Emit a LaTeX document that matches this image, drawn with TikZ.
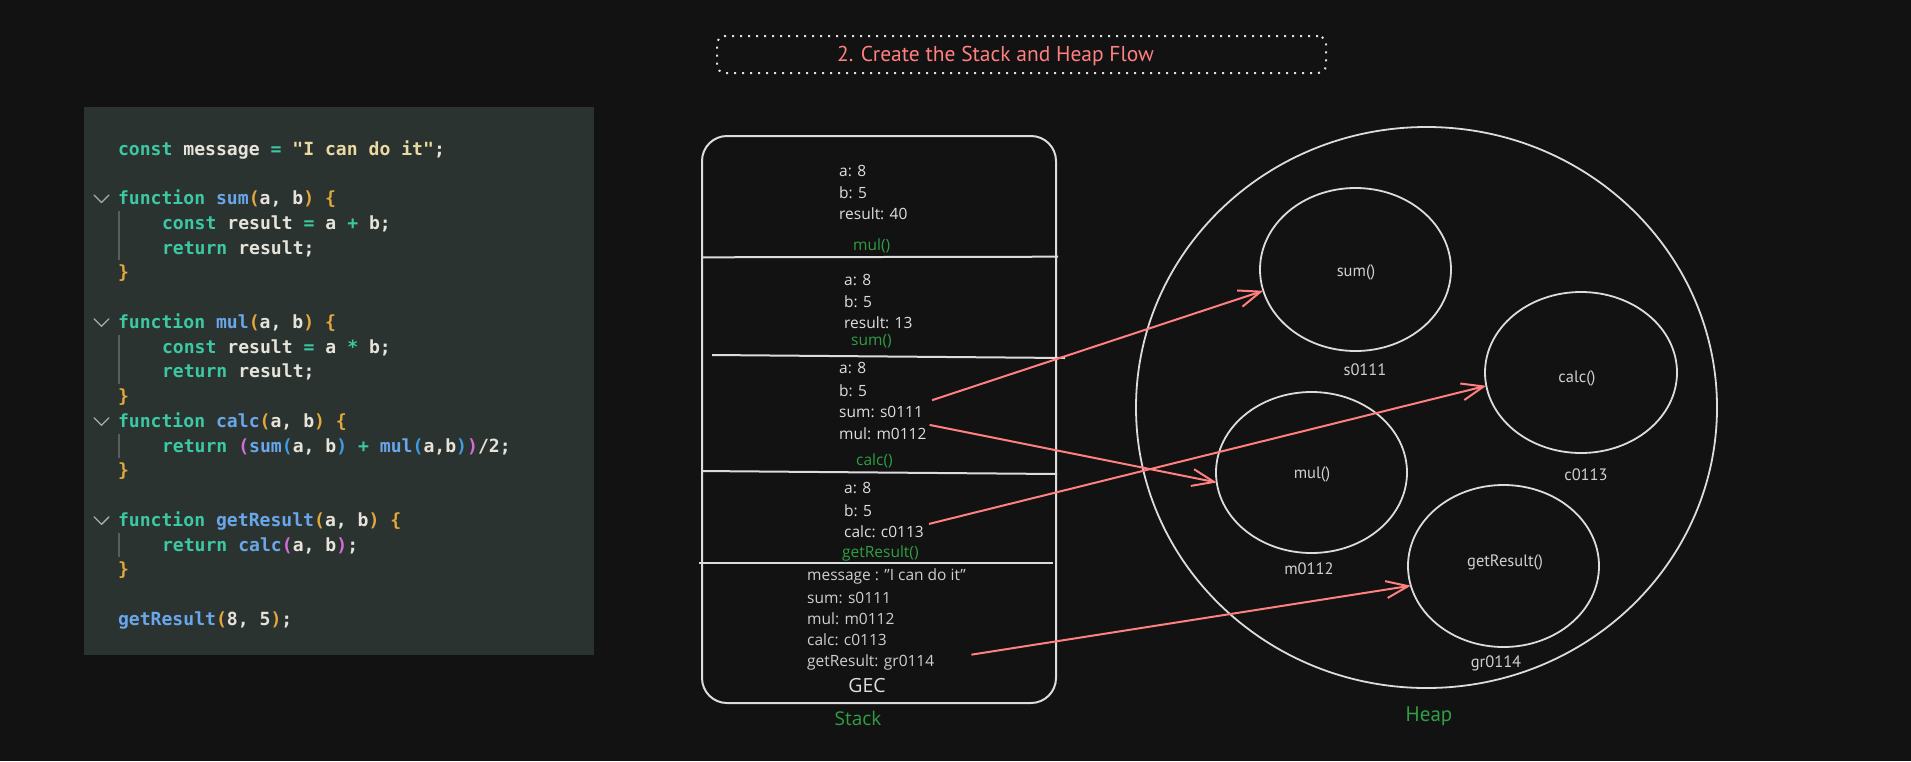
\documentclass[tikz,border=0pt]{standalone}
\usepackage{fontspec}
\setmainfont{Open Sans}
\newfontfamily\codefont{DejaVu Sans Mono}
\newfontfamily\ptfont{PT Sans}
\usetikzlibrary{arrows.meta,shapes.geometric}
\definecolor{bg}{HTML}{121212}
\definecolor{panel}{HTML}{2B3330}
\definecolor{ckw}{HTML}{3CC8A2}
\definecolor{cid}{HTML}{E6E4DA}
\definecolor{cfn}{HTML}{6AA6EA}
\definecolor{cpa}{HTML}{E2A83C}
\definecolor{cpb}{HTML}{D46CD8}
\definecolor{cpc}{HTML}{3C9DE4}
\definecolor{cstr}{HTML}{E8DAA2}
\definecolor{salmon}{HTML}{FF8080}
\definecolor{grn}{HTML}{2F9E44}
\definecolor{txt}{HTML}{DEDEDE}
\definecolor{txtb}{HTML}{CFCFCF}
\definecolor{strk}{HTML}{DCDCDC}
\definecolor{guide}{HTML}{5A5F5C}
\definecolor{chev}{HTML}{A8ADAA}
\newcommand\cKw[1]{\textcolor{ckw}{#1}}
\newcommand\cFn[1]{\textcolor{cfn}{#1}}
\newcommand\cPa[1]{\textcolor{cpa}{#1}}
\newcommand\cPb[1]{\textcolor{cpb}{#1}}
\newcommand\cPc[1]{\textcolor{cpc}{#1}}
\newcommand\cSt[1]{\textcolor{cstr}{#1}}
\begin{document}
\begin{tikzpicture}[x=1pt,y=-1pt,
  codeline/.style={anchor=mid west, inner sep=0pt, outer sep=0pt, text=cid,
    font=\codefont\bfseries\fontsize{18.1}{20}\selectfont},
  chevron/.style={draw=chev, line width=1.4pt, line cap=round, line join=round},
  guideline/.style={draw=guide, line width=1.2pt},
  stxt/.style={anchor=mid west, inner sep=0pt, text=txt, font=\fontsize{15.5}{18}\selectfont},
  gtxt/.style={anchor=mid west, inner sep=0pt, text=txtb, font=\fontsize{15.5}{18}\selectfont},
  frame/.style={anchor=mid west, inner sep=0pt, text=grn, font=\fontsize{15.5}{18}\selectfont},
  divider/.style={draw=strk, line width=2pt},
  heapobj/.style={ellipse, draw=strk, line width=1.8pt, inner sep=0pt, outer sep=0pt},
  htxt/.style={inner sep=0pt, text=txtb, font=\ptfont\fontsize{16.5}{18}\selectfont},
  arr/.style={draw=salmon, line width=2pt, -{Straight Barb[length=22pt,width=17pt]}}
]
\fill[bg] (0,0) rectangle (1911,761);
\useasboundingbox (0,0) rectangle (1911,761);

% title
\node[draw=strk!85, line width=2pt, dash pattern=on 2pt off 6pt, rounded corners=8pt,
  minimum width=609pt, minimum height=37pt, inner sep=0pt] (titlebox) at (1021.5,54.5) {};
\node[inner sep=0pt, text=salmon, font=\ptfont\fontsize{21.5}{24}\selectfont] (title) at (995.5,56) {2. Create the Stack and Heap Flow};

% code panel
\node[fill=panel, minimum width=510pt, minimum height=548pt, inner sep=0pt, anchor=north west] (codepanel) at (84,107) {};

\node[codeline] (cl0) at (118,152.5) {\cKw{const} message \cKw{=} \cSt{"I can do it"};};
\node[codeline] (cl2) at (118,202) {\cKw{function} \cFn{sum}\cPa{(}a, b\cPa{)} \cPa{\{}};
\node[codeline] (cl3) at (162,226.75) {\cKw{const} result \cKw{=} a \cKw{+} b;};
\node[codeline] (cl4) at (162,251.5) {\cKw{return} result;};
\node[codeline] (cl5) at (118,276.25) {\cPa{\}}};
\node[codeline] (cl7) at (118,325.75) {\cKw{function} \cFn{mul}\cPa{(}a, b\cPa{)} \cPa{\{}};
\node[codeline] (cl8) at (162,350.5) {\cKw{const} result \cKw{=} a \cKw{*} b;};
\node[codeline] (cl9) at (162,375.25) {\cKw{return} result;};
\node[codeline] (cl10) at (118,400) {\cPa{\}}};
\node[codeline] (cl11) at (118,424.75) {\cKw{function} \cFn{calc}\cPa{(}a, b\cPa{)} \cPa{\{}};
\node[codeline] (cl12) at (162,449.5) {\cKw{return} \cPb{(}\cFn{sum}\cPc{(}a, b\cPc{)} \cKw{+} \cFn{mul}\cPc{(}a,b\cPc{)}\cPb{)}/2;};
\node[codeline] (cl13) at (118,474.25) {\cPa{\}}};
\node[codeline] (cl15) at (118,523.75) {\cKw{function} \cFn{getResult}\cPa{(}a, b\cPa{)} \cPa{\{}};
\node[codeline] (cl16) at (162,548.5) {\cKw{return} \cFn{calc}\cPb{(}a, b\cPb{)};};
\node[codeline] (cl17) at (118,573.25) {\cPa{\}}};
\node[codeline] (cl19) at (118,622.75) {\cFn{getResult}\cPa{(}8, 5\cPa{)};};

\foreach \yy in {198.5,322.25,421.25,520.25}
  \draw[chevron] (94,\yy-3.5) -- (101.5,\yy+4) -- (109,\yy-3.5);
\draw[guideline] (119,210.9) -- (119,260.4);
\draw[guideline] (119,334.6) -- (119,384.1);
\draw[guideline] (119,433.6) -- (119,458.4);
\draw[guideline] (119,532.6) -- (119,557.4);

% stack
\node[draw=strk, line width=2pt, rounded corners=25pt, minimum width=354pt, minimum height=567pt,
  inner sep=0pt, anchor=north west] (stack) at (701,135) {};
\draw[divider] (701,257.3) -- (1058,256.7);
\draw[divider] (712,355) -- (1065,358);
\draw[divider] (701,471) -- (1057,474);
\draw[divider] (699,563) -- (1053,563);

\node[stxt] (f1a) at (839,174) {a: 8};
\node[stxt] (f1b) at (839,196) {b: 5};
\node[stxt] (f1r) at (839,217) {result: 40};
\node[frame] (f1n) at (853,248) {mul()};

\node[stxt] (f2a) at (844,283) {a: 8};
\node[stxt] (f2b) at (844,305) {b: 5};
\node[stxt] (f2r) at (844,326) {result: 13};
\node[frame] (f2n) at (851,343) {sum()};

\node[stxt] (f3a) at (839,371) {a: 8};
\node[stxt] (f3b) at (839,394) {b: 5};
\node[stxt] (f3sum) at (839,415) {sum: s0111};
\node[stxt] (f3mul) at (839,437) {mul: m0112};
\node[frame] (f3n) at (856,463) {calc()};

\node[stxt] (f4a) at (844,491) {a: 8};
\node[stxt] (f4b) at (844,514) {b: 5};
\node[stxt] (f4calc) at (844,535) {calc: c0113};
\node[frame] (f4n) at (842,555) {getResult()};

\node[gtxt] (g1) at (807,578) {message : "I can do it"};
\node[gtxt] (g2) at (807,601) {sum: s0111};
\node[gtxt] (g3) at (807,622) {mul: m0112};
\node[gtxt] (g4) at (807,643) {calc: c0113};
\node[gtxt] (g5) at (807,664) {getResult: gr0114};
\node[inner sep=0pt, text=txt, font=\fontsize{19.5}{22}\selectfont] (gec) at (867,686) {GEC};
\node[inner sep=0pt, text=grn, font=\fontsize{19}{22}\selectfont] (stacklbl) at (858,718) {Stack};

% heap
\node[heapobj, minimum width=581pt, minimum height=561pt] (heap) at (1426.5,407.5) {};
\node[heapobj, minimum width=191pt, minimum height=163pt] (sumc) at (1355.5,269.5) {};
\node[heapobj, minimum width=192pt, minimum height=161pt] (calcc) at (1581,372.5) {};
\node[heapobj, minimum width=191pt, minimum height=161pt] (mulc) at (1311.5,472.5) {};
\node[heapobj, minimum width=191pt, minimum height=162pt] (getc) at (1503.5,566) {};

\node[htxt] (sumt) at (1356,272) {sum()};
\node[htxt] (calct) at (1577,378) {calc()};
\node[htxt] (mult) at (1312,474) {mul()};
\node[htxt] (gett) at (1505,562) {getResult()};
\node[htxt] (suma) at (1365,370) {s0111};
\node[htxt] (calca) at (1586,475) {c0113};
\node[htxt] (mula) at (1309,569) {m0112};
\node[htxt] (geta) at (1496,663) {gr0114};
\node[inner sep=0pt, text=grn, font=\ptfont\fontsize{21}{24}\selectfont] (heaplbl) at (1429,716) {Heap};

% arrows
\draw[arr] ([xshift=9pt,yshift=12pt]f3sum.east) -- (sumc.193.6);
\draw[arr] ([xshift=3pt,yshift=9pt]f3mul.east) -- (mulc.186);
\draw[arr] ([xshift=5pt,yshift=8pt]f4calc.east) -- (calcc.188.6);
\draw[arr] ([xshift=37pt,yshift=8pt]g5.east) -- (getc.192);
\end{tikzpicture}
\end{document}
